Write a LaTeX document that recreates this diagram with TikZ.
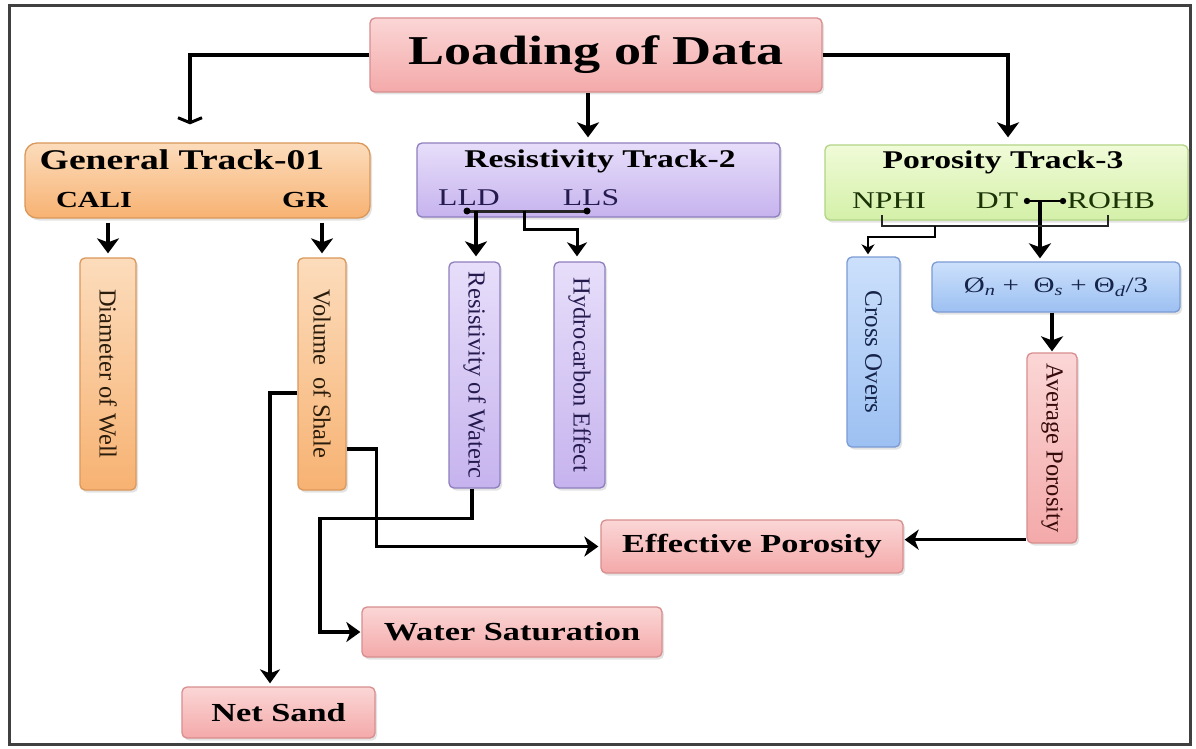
\documentclass[tikz,border=0pt]{standalone}
\usepackage{fontspec}
\setmainfont{Liberation Serif}
\newfontfamily\widefont[FakeStretch=1.32]{Liberation Serif}
\usetikzlibrary{arrows.meta,shadows,calc}

\definecolor{pinkA}{HTML}{FBD6D6}
\definecolor{pinkB}{HTML}{F4A9A9}
\definecolor{pinkD}{HTML}{D88E8E}
\definecolor{oraA}{HTML}{FCDCBC}
\definecolor{oraB}{HTML}{F7B272}
\definecolor{oraD}{HTML}{DA985A}
\definecolor{purA}{HTML}{E7DEFA}
\definecolor{purB}{HTML}{C6B3EE}
\definecolor{purD}{HTML}{8E7EBE}
\definecolor{grnA}{HTML}{F0FBD8}
\definecolor{grnB}{HTML}{D4F0A8}
\definecolor{grnD}{HTML}{B2D487}
\definecolor{bluA}{HTML}{CCE0FB}
\definecolor{bluB}{HTML}{9CC0F2}
\definecolor{bluD}{HTML}{7B9BD4}
\definecolor{inkPur}{HTML}{241A4E}
\definecolor{inkGrn}{HTML}{1B3406}
\definecolor{inkBrn}{HTML}{2A1C0C}
\definecolor{inkBlu}{HTML}{16244A}
\definecolor{inkRed}{HTML}{360A0A}

\tikzset{
  box/.style={draw, line width=1.3pt, rounded corners=5pt, inner sep=0pt, align=center,
    drop shadow={opacity=0.22, shadow xshift=2pt, shadow yshift=-2.5pt}},
  pinkbox/.style={box, draw=pinkD, top color=pinkA, bottom color=pinkB},
  orabox/.style={box, draw=oraD, top color=oraA, bottom color=oraB},
  purbox/.style={box, draw=purD, top color=purA, bottom color=purB},
  grnbox/.style={box, draw=grnD, top color=grnA, bottom color=grnB},
  blubox/.style={box, draw=bluD, top color=bluA, bottom color=bluB},
  lbl/.style={inner sep=0pt, text=black},
  conn/.style={line width=3.5pt, line join=miter},
  arr/.style={conn, -{Stealth[length=14pt, width=20pt, inset=4pt]}},
  bigarr/.style={line width=4pt, -{Stealth[length=15pt, width=22pt, inset=4pt]}},
  thinarr/.style={line width=2.6pt, -{Stealth[length=10pt, width=13pt, inset=3pt]}},
  tee/.style={line width=3.5pt, -{Straight Barb[length=5pt, width=24pt, line width=3pt]}},
  frame/.style={draw=black!75, line width=3pt}
}

\begin{document}
\begin{tikzpicture}[x=1pt, y=-1pt]
\useasboundingbox (0,0) rectangle (1196,749);
\fill[white] (0,0) rectangle (1196,749);
\draw[frame] (9,6) rectangle (1190,744);

% top node
\node[pinkbox, minimum width=452, minimum height=74] (load) at (596,55)
  {\fontsize{41}{45}\selectfont\widefont\bfseries Loading of Data};

% the three tracks
\node[orabox, rounded corners=12pt, minimum width=345, minimum height=75] (gen) at (197.5,180.5) {};
\node[lbl] (gentitle) at (182,160) {\fontsize{28.5}{31}\selectfont\widefont\bfseries General Track-01};
\node[lbl] (cali) at (94,200) {\fontsize{23}{25}\selectfont\widefont\bfseries CALI};
\node[lbl] (gr) at (305,200) {\fontsize{23}{25}\selectfont\widefont\bfseries GR};

\node[purbox, minimum width=363, minimum height=74] (res) at (598.5,180) {};
\node[lbl] (restitle) at (600,161) {\fontsize{25.5}{28}\selectfont\widefont\bfseries Resistivity Track-2};
\node[lbl, text=inkPur] (lld) at (469,198) {\fontsize{24}{26}\selectfont\widefont LLD};
\node[lbl, text=inkPur] (lls) at (591,198) {\fontsize{24}{26}\selectfont\widefont LLS};

\node[grnbox, minimum width=363, minimum height=75] (por) at (1006.5,182.5) {};
\node[lbl] (portitle) at (1003,162) {\fontsize{25.5}{28}\selectfont\widefont\bfseries Porosity Track-3};
\node[lbl, text=inkGrn] (nphi) at (889,201) {\fontsize{24}{26}\selectfont\widefont NPHI};
\node[lbl, text=inkGrn] (dt) at (997,201) {\fontsize{24}{26}\selectfont\widefont DT};
\node[lbl, text=inkGrn] (rohb) at (1111,201) {\fontsize{24}{26}\selectfont\widefont ROHB};

% vertical result boxes
\node[orabox, minimum width=56, minimum height=232, text=inkBrn] (diam) at (108,374)
  {\rotatebox{-90}{\fontsize{24.5}{26}\selectfont Diameter of Well}};
\node[orabox, minimum width=48, minimum height=232, text=inkBrn] (vsh) at (322,374)
  {\rotatebox{-90}{\fontsize{24.5}{26}\selectfont Volume\ \ of Shale}};
\node[purbox, minimum width=51, minimum height=226, text=inkPur] (rw) at (474.5,375)
  {\rotatebox{-90}{\fontsize{24.5}{26}\selectfont Resistivity of Waterc}};
\node[purbox, minimum width=51, minimum height=226, text=inkPur] (hc) at (579.5,375)
  {\rotatebox{-90}{\fontsize{24.5}{26}\selectfont Hydrocarbon Effect}};
\node[blubox, minimum width=53, minimum height=190, text=inkBlu] (co) at (873.5,352)
  {\rotatebox{-90}{\fontsize{25}{27}\selectfont Cross Overs}};
\node[blubox, minimum width=248, minimum height=50, text=inkBlu] (form) at (1056,287)
  {\fontsize{22}{24}\selectfont\widefont Ø\textsubscript{\textit{n}} +\ \ Θ\textsubscript{\textit{s}} + Θ\textsubscript{\textit{d}}/3};
\node[pinkbox, minimum width=50, minimum height=190, text=inkRed] (avg) at (1052,448)
  {\rotatebox{-90}{\fontsize{24.5}{26}\selectfont Average Porosity}};

% final results
\node[pinkbox, minimum width=302, minimum height=53] (eff) at (752,546.5)
  {\fontsize{26}{28}\selectfont\widefont\bfseries Effective Porosity};
\node[pinkbox, minimum width=300, minimum height=50] (ws) at (512,632)
  {\fontsize{26}{28}\selectfont\widefont\bfseries Water Saturation};
\node[pinkbox, minimum width=193, minimum height=51] (ns) at (278.5,712.5)
  {\fontsize{26}{28}\selectfont\widefont\bfseries Net Sand};

% connectors from the top node
\coordinate (genIn) at ($(gen.north)+(-7.5,-18)$);
\draw[tee] (load.west) -| (genIn);
\draw[bigarr, shorten >=5pt] ([xshift=-8pt]load.south) -- ([xshift=-8pt]load.south |- res.north);
\draw[bigarr, shorten >=7pt] (load.east) -| ([xshift=1.5pt]por.north);

% general track
\draw[bigarr, shorten >=4pt] ([yshift=-4pt]diam.north |- gen.south) -- (diam.north);
\draw[bigarr, shorten >=4pt] ([yshift=-4pt]vsh.north |- gen.south) -- (vsh.north);

% resistivity track
\coordinate (lldDot) at (467,211);
\coordinate (llsDot) at (587,211);
\coordinate (resMid) at ($(lldDot)!0.48!(llsDot)$);
\draw[line width=3pt, draw=black!85] (lldDot) -- (llsDot);
\fill (lldDot) circle (3.5pt);
\fill (llsDot) circle (3.5pt);
\draw[bigarr, shorten >=5pt] ([xshift=1.5pt]rw.north |- lldDot) -- ([xshift=1.5pt]rw.north);
\draw[line width=3pt, -{Stealth[length=14pt, width=20pt, inset=4pt]}, shorten >=5pt]
  (resMid) -- ++(0,18) -| ([xshift=-2.5pt]hc.north);

% porosity track
\coordinate (dtDot) at (1027,201);
\coordinate (rohbDot) at (1063,201);
\coordinate (dtMid) at ($(dtDot)!0.36!(rohbDot)$);
\draw[line width=1.8pt] (dtDot) -- (rohbDot);
\fill (dtDot) circle (3.2pt);
\fill (rohbDot) circle (3.2pt);
\draw[bigarr, shorten >=3pt] (dtMid) -- (dtMid |- form.north);
\coordinate (nphiFoot) at (882,215);
\coordinate (rohbFoot) at (1108,215);
\coordinate (bracketMid) at (935,226);
\draw[line width=2.8pt, draw=black!85] (nphiFoot) -- ++(0,11) -| (rohbFoot);
\draw[thinarr, shorten >=2pt] (bracketMid) -- ++(0,11) -| ([xshift=-5.5pt]co.north);
\draw[bigarr, shorten >=1pt] (avg.north |- form.south) -- (avg.north);

% towards the final results
\draw[arr, shorten >=1pt] ([yshift=4pt]avg.south west) -- ([yshift=4pt]avg.south west -| eff.east);
\draw[arr, shorten >=3pt] ($(vsh.west)+(0,19)$) -| ([xshift=-8.5pt]ns.north);
\draw[arr, shorten >=2pt] ($(vsh.east)+(0,75)$) -- ++(30,0) |- (eff.west);
\draw[arr, shorten >=1pt] ([xshift=-2.5pt]rw.south) -- ++(0,30) -- ++(-152,0) |- (ws.west);
\end{tikzpicture}
\end{document}
